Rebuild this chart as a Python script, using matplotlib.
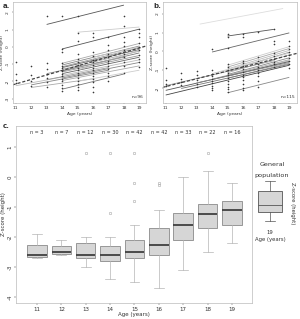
import matplotlib
matplotlib.use("Agg")
import matplotlib.pyplot as plt

W, H = 300, 319

# ---------------- data ----------------
ages = [11, 12, 13, 14, 15, 16, 17, 18, 19]

# panel a: individual regression lines (start age, end age, z start, z end, gray level)
a_lines = [
    (13, 18, 1.30, 2.42, '#555555'),
    (14, 19, -0.12, 1.03, '#555555'),
    (15, 19, 0.85, 1.15, '#cccccc'),
    (14, 19, -0.95, 0.20, '#aaaaaa'),
    (14, 19, -1.05, 0.05, '#888888'),
    (14, 19, -1.15, -0.05, '#999999'),
    (14, 19, -1.20, -0.15, '#666666'),
    (14, 19, -1.30, -0.25, '#aaaaaa'),
    (14, 19, -1.40, -0.35, '#777777'),
    (14, 19, -1.45, -0.50, '#999999'),
    (14, 19, -1.55, -0.60, '#666666'),
    (14, 19, -1.65, -0.75, '#bbbbbb'),
    (14, 19, -1.80, -0.90, '#888888'),
    (14, 19, -1.95, -1.10, '#aaaaaa'),
    (14, 18, -2.45, -1.57, '#777777'),
    (15, 19, -1.35, -0.20, '#bbbbbb'),
    (13, 18, -1.55, -0.60, '#999999'),
    (12, 17, -2.20, -1.35, '#888888'),
    (12, 16, -2.35, -1.85, '#aaaaaa'),
    (11, 14, -2.25, -1.75, '#bbbbbb'),
    (15, 19, -2.00, -1.35, '#cccccc'),
    (13, 17, -1.90, -1.20, '#999999'),
    (16, 19, -0.60, 0.00, '#cccccc'),
]
a_mean = (10.8, 19.43, -2.20, 0.05)
a_points = {
    11: [-0.85, -1.55, -1.9, -2.1],
    12: [-1.1, -1.6, -2.0, -2.25],
    13: [1.79, -0.95, -1.3, -1.55, -1.8, -2.05, -2.3],
    14: [1.79, -0.15, -0.3, -0.95, -1.1, -1.25, -1.4, -1.55, -1.7, -1.85, -2.0, -2.2, -2.4, -2.55],
    15: [1.79, 0.8, 0.35, -0.4, -0.7, -0.9, -1.05, -1.2, -1.35, -1.5, -1.65, -1.8, -2.0, -2.15, -2.35, -2.5],
    16: [0.8, 0.6, -0.3, -0.55, -0.75, -0.9, -1.05, -1.2, -1.35, -1.5, -1.7, -1.85, -2.05, -2.3, -2.6],
    17: [0.6, 0.1, -0.2, -0.4, -0.6, -0.8, -0.95, -1.1, -1.3, -1.5, -1.7, -1.95],
    18: [1.79, 1.2, 0.6, 0.3, 0.05, -0.2, -0.4, -0.6, -0.85, -1.1, -1.5],
    19: [1.05, 0.8, 0.55, 0.2, 0.0, -0.2, -0.45, -0.7, -0.9, -1.15],
}
a_yticks = [2, 1, 0, -1, -2, -3]

# panel b
b_lines = [
    (13.2, 18.6, 1.46, 2.30, '#dddddd'),
    (15, 18, 0.82, 1.18, '#555555'),
    (14, 19, -0.04, 0.99, '#666666'),
    (15, 19, -0.75, 0.25, '#cccccc'),
    (15, 19, -0.85, 0.15, '#aaaaaa'),
    (15, 19, -0.95, 0.05, '#bbbbbb'),
    (15, 19, -1.05, -0.05, '#999999'),
    (15, 19, -1.15, -0.20, '#aaaaaa'),
    (15, 19, -1.25, -0.35, '#888888'),
    (15, 19, -1.35, -0.50, '#bbbbbb'),
    (15, 19, -1.45, -0.65, '#999999'),
    (14, 19, -1.50, -0.45, '#aaaaaa'),
    (11, 19, -2.10, -0.55, '#555555'),
    (11, 19, -2.35, -0.75, '#444444'),
    (12, 19, -2.00, -0.70, '#777777'),
    (11, 18, -1.85, -0.50, '#999999'),
    (13, 19, -1.70, -0.60, '#888888'),
    (15, 19, -2.23, -1.40, '#888888'),
    (14, 19, -1.20, -0.10, '#cccccc'),
]
b_mean = (10.8, 19.5, -1.94, -0.11)
b_points = {
    11: [-0.92, -1.55, -1.75, -1.85],
    12: [-1.15, -1.5, -1.65, -1.8],
    13: [-1.05, -1.25, -1.55, -1.75, -1.9],
    14: [0.1, -1.0, -1.2, -1.35, -1.5, -1.6, -1.7, -1.85, -1.95, -2.1],
    15: [0.95, 0.75, 0.2, -0.7, -0.85, -1.0, -1.15, -1.3, -1.45, -1.6, -1.75, -1.9, -2.05, -2.2],
    16: [0.95, 0.75, -0.5, -0.65, -0.8, -0.95, -1.1, -1.25, -1.4, -1.55, -1.75, -1.95, -2.1],
    17: [1.05, -0.3, -0.5, -0.7, -0.85, -1.0, -1.15, -1.35, -1.6, -1.9],
    18: [1.2, 0.55, 0.4, -0.1, -0.25, -0.4, -0.55, -0.7, -0.85],
    19: [0.55, 0.3, 0.1, -0.05, -0.2, -0.35, -0.5, -0.7, -0.9],
}
b_yticks = [2, 1, 0, -1, -2]

# panel c: boxplot summaries per age
n_labels = ["n = 3", "n = 7", "n = 12", "n = 30", "n = 42", "n = 42", "n = 33", "n = 22", "n = 16"]
whis_hi = [-1.9, -2.1, -2.0, -2.0, -1.6, -1.1, 0.0, 0.2, -0.2]
q3 = [-2.25, -2.3, -2.2, -2.3, -2.1, -1.7, -1.2, -0.9, -0.8]
med = [-2.6, -2.5, -2.6, -2.6, -2.5, -2.25, -1.6, -1.24, -1.1]
q1 = [-2.65, -2.58, -2.7, -2.8, -2.7, -2.6, -2.1, -1.7, -1.6]
whis_lo = [-2.7, -2.6, -3.0, -3.4, -3.5, -3.7, -3.1, -2.5, -2.2]
outliers = [[], [], [0.8], [0.8, -1.2], [0.8, -0.2, -0.8], [-0.2, -0.28], [], [0.8], []]
c_yticks = [1, 0, -1, -2, -3, -4]

# general population reference box
gp_stats = dict(whishi=1.6, q3=0.93, med=0.0, q1=-0.47, whislo=-1.07)

# ---------------- drawing ----------------
fig = plt.figure(figsize=(W / 100, H / 100), dpi=100)
fig.patch.set_facecolor('white')

def fr(x0, y0, x1, y1):
    return [x0 / W, 1 - y1 / H, (x1 - x0) / W, (y1 - y0) / H]

def px(x, y):
    return x / W, 1 - y / H

FS = 3.2
TXT = '#333333'
FRAME = '#bbbbbb'

def spaghetti(ax, lines, mean, points, yticks, xlim, ylim, ntext):
    for a0, a1, z0, z1, c in lines:
        ax.plot([a0, a1], [z0, z1], color=c, lw=0.6, solid_capstyle='butt')
    ax.plot([mean[0], mean[1]], [mean[2], mean[3]], color='#444444', lw=0.9,
            ls=(0, (2.5, 1.5)))
    for age, zs in points.items():
        ax.plot([age] * len(zs), zs, ls='none', marker='o', ms=0.9,
                mfc='#333333', mec='#333333', mew=0.2)
    ax.set_xlim(*xlim)
    ax.set_ylim(*ylim)
    ax.set_xticks(ages)
    ax.set_xticklabels([str(a) for a in ages])
    ax.set_yticks(yticks)
    ax.set_yticklabels([str(t) for t in yticks], rotation=90, va='center')
    ax.tick_params(labelsize=FS, length=1, width=0.3, pad=1, colors=TXT)
    for s in ax.spines.values():
        s.set_color(FRAME)
        s.set_linewidth(0.5)
    ax.set_xlabel('Age (years)', fontsize=FS, color=TXT, labelpad=1.5)
    ax.set_ylabel('Z-score (height)', fontsize=FS, color=TXT, labelpad=1)
    ax.text(0.985, 0.04, ntext, transform=ax.transAxes, ha='right', va='bottom',
            fontsize=FS, color=TXT)

ax_a = fig.add_axes(fr(12.5, 2, 146, 103))
spaghetti(ax_a, a_lines, a_mean, a_points, a_yticks, (10.79, 19.43), (-3.25, 2.6), 'n=96')
ax_b = fig.add_axes(fr(162.5, 2, 297, 103))
spaghetti(ax_b, b_lines, b_mean, b_points, b_yticks, (10.79, 19.5), (-2.78, 2.65), 'n=115')

fig.text(*px(3, 6), 'a.', fontsize=5, fontweight='bold', color=TXT, va='center')
fig.text(*px(153, 6), 'b.', fontsize=5, fontweight='bold', color=TXT, va='center')
fig.text(*px(3, 126), 'c.', fontsize=5, fontweight='bold', color=TXT, va='center')

# panel c
ax_c = fig.add_axes(fr(16, 126, 252, 303))
stats = []
for i, a in enumerate(ages):
    stats.append(dict(whishi=whis_hi[i], q3=q3[i], med=med[i], q1=q1[i],
                      whislo=whis_lo[i], fliers=outliers[i]))
ax_c.bxp(stats, positions=ages, widths=0.8, capwidths=0.4, patch_artist=True,
         boxprops=dict(facecolor='#d6d6d6', edgecolor='#8a8a8a', linewidth=0.6),
         medianprops=dict(color='#404040', linewidth=1.3),
         whiskerprops=dict(color='#b5b5b5', linewidth=0.5),
         capprops=dict(color='#b5b5b5', linewidth=0.5),
         flierprops=dict(marker='o', ms=1.8, mfc='none', mec='#aaaaaa', mew=0.4))
for a, lab in zip(ages, n_labels):
    ax_c.text(a, 1.5, lab, ha='center', va='center', fontsize=FS + 0.3, color=TXT)
ax_c.set_xlim(10.14, 19.82)
ax_c.set_ylim(-4.2, 1.7)
ax_c.set_xticks(ages)
ax_c.set_xticklabels([str(a) for a in ages])
ax_c.set_yticks(c_yticks)
ax_c.set_yticklabels([str(t) for t in c_yticks], rotation=90, va='center')
ax_c.tick_params(labelsize=4, length=1.2, width=0.3, pad=1.5, colors=TXT)
for s in ax_c.spines.values():
    s.set_color(FRAME)
    s.set_linewidth(0.5)
ax_c.set_xlabel('Age (years)', fontsize=4, color=TXT, labelpad=0.5)
ax_c.set_ylabel('Z-score (height)', fontsize=4, color=TXT, labelpad=1)

# general population inset
ax_g = fig.add_axes(fr(256, 176, 284, 226))
ax_g.bxp([dict(gp_stats, fliers=[])], positions=[0.5], widths=0.857, capwidths=0.35,
         patch_artist=True,
         boxprops=dict(facecolor='#d6d6d6', edgecolor='#555555', linewidth=0.6),
         medianprops=dict(color='#555555', linewidth=0.6),
         whiskerprops=dict(color='#555555', linewidth=0.5),
         capprops=dict(color='#555555', linewidth=0.5))
ax_g.set_xlim(0, 1)
ax_g.set_ylim(-1.4, 1.933)
ax_g.axis('off')
fig.text(*px(272, 165), 'General', ha='center', va='center', fontsize=4.6, color=TXT)
fig.text(*px(272, 175), 'population', ha='center', va='center', fontsize=4.6, color=TXT)
fig.text(*px(270, 233), '19', ha='center', va='center', fontsize=3.8, color=TXT)
fig.text(*px(270, 240), 'Age (years)', ha='center', va='center', fontsize=3.8, color=TXT)
fig.text(*px(293, 203), 'Z-score (height)', ha='center', va='center', fontsize=3.8,
         color=TXT, rotation=270)

fig.savefig('out.png', dpi=100, facecolor='white')
